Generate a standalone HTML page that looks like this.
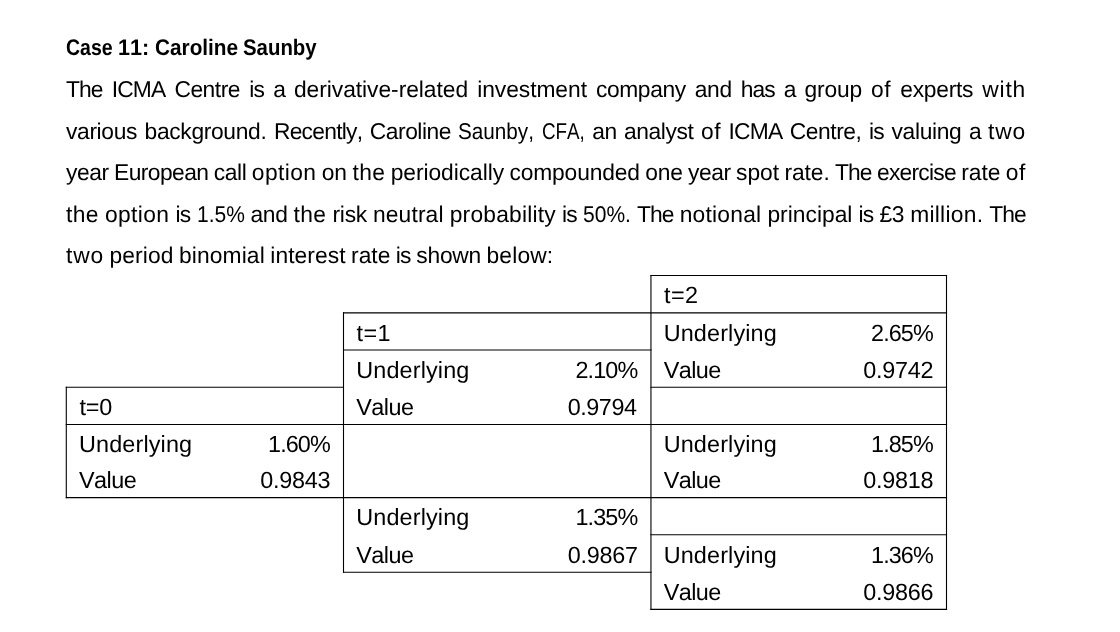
<!DOCTYPE html>
<html lang="en"><head><meta charset="utf-8"><title>Case 11: Caroline Saunby</title>
<style>
html,body{margin:0;padding:0;background:#fff}
body{position:relative;width:1120px;height:632px;overflow:hidden;color:#000;
 font-family:"Liberation Sans",sans-serif;font-size:22.8px;line-height:30.0px;
 font-kerning:none;font-variant-ligatures:none;text-rendering:geometricPrecision}
#pg{position:absolute;left:0;top:0;width:1120px;height:632px;will-change:transform}
.ln,.c{position:absolute;margin:0;padding:0;white-space:nowrap;height:30.0px;font-weight:normal}
h1.ln{font-size:22.5px;font-weight:bold}
h1.ln span{position:absolute;top:0;transform-origin:0 0}
.q{display:inline-block;transform-origin:0 0}
.c{font-size:23.4px}
svg{position:absolute;left:0;top:0}
</style></head><body><div id="pg">
<h1 class="ln" style="left:66.00px;top:32.80px;width:260px"><span style="left:0.00px;transform:scaleX(0.8658)">Case</span> <span style="left:52.05px;transform:scaleX(0.9591)">11:</span> <span style="left:88.72px;transform:scaleX(0.9229)">Caroline</span> <span style="left:177.28px;transform:scaleX(0.9060)">Saunby</span></h1>
<p class="ln" style="left:66.00px;top:74.20px;word-spacing:2.756px"><span style="letter-spacing:-0.922px">The</span> <span style="letter-spacing:-0.832px">ICMA</span> <span style="letter-spacing:-0.461px">Centre</span> <span style="letter-spacing:-0.724px">is</span> <span style="letter-spacing:-1.097px">a</span> <span style="letter-spacing:-0.044px">derivative-related</span> <span style="letter-spacing:-0.042px">investment</span> <span style="letter-spacing:-0.415px">company</span> <span style="letter-spacing:-0.346px">and</span> <span style="letter-spacing:-0.999px">has</span> <span style="letter-spacing:-1.097px">a</span> <span style="letter-spacing:-0.140px">group</span> <span style="letter-spacing:0.562px">of</span> <span style="letter-spacing:-0.268px">experts</span> <span style="letter-spacing:0.778px">with</span></p>
<p class="ln" style="left:66.00px;top:115.80px;word-spacing:1.146px"><span style="letter-spacing:-0.349px">various</span> <span style="letter-spacing:-0.323px">background.</span> <span style="letter-spacing:-0.737px">Recently,</span> <span style="letter-spacing:-0.473px">Caroline</span> <span class="q" style="width:75.97px;transform:scaleX(0.9081)">Saunby,</span> <span class="q" style="width:42.86px;transform:scaleX(0.8252)">CFA,</span> <span style="letter-spacing:-0.530px">an</span> <span style="letter-spacing:-0.398px">analyst</span> <span style="letter-spacing:0.562px">of</span> <span style="letter-spacing:-0.833px">ICMA</span> <span style="letter-spacing:-0.437px">Centre,</span> <span style="letter-spacing:-0.724px">is</span> <span style="letter-spacing:-0.313px">valuing</span> <span style="letter-spacing:-1.097px">a</span> <span style="letter-spacing:0.819px">two</span></p>
<p class="ln" style="left:66.00px;top:157.10px;word-spacing:-0.994px"><span style="letter-spacing:-0.410px">year</span> <span style="letter-spacing:-0.564px">European</span> <span style="letter-spacing:-0.375px">call</span> <span style="letter-spacing:0.392px">option</span> <span style="letter-spacing:0.055px">on</span> <span style="letter-spacing:0.386px">the</span> <span style="letter-spacing:-0.053px">periodically</span> <span style="letter-spacing:-0.140px">compounded</span> <span style="letter-spacing:-0.182px">one</span> <span style="letter-spacing:-0.410px">year</span> <span style="letter-spacing:-0.016px">spot</span> <span style="letter-spacing:-0.069px">rate.</span> <span style="letter-spacing:-0.919px">The</span> <span style="letter-spacing:-0.749px">exercise</span> <span style="letter-spacing:-0.027px">rate</span> <span style="letter-spacing:0.562px">of</span></p>
<p class="ln" style="left:66.00px;top:198.90px;word-spacing:-0.274px"><span style="letter-spacing:0.386px">the</span> <span style="letter-spacing:0.392px">option</span> <span style="letter-spacing:-0.729px">is</span> <span class="q" style="width:47.92px;transform:scaleX(0.9221)">1.5%</span> <span style="letter-spacing:-0.346px">and</span> <span style="letter-spacing:0.386px">the</span> <span style="letter-spacing:-0.252px">risk</span> <span style="letter-spacing:0.132px">neutral</span> <span style="letter-spacing:0.209px">probability</span> <span style="letter-spacing:-0.724px">is</span> <span class="q" style="width:47.92px;transform:scaleX(0.9221)">50%.</span> <span style="letter-spacing:-0.919px">The</span> <span style="letter-spacing:0.233px">notional</span> <span style="letter-spacing:0.014px">principal</span> <span style="letter-spacing:-0.724px">is</span> <span style="letter-spacing:-0.415px">£3</span> <span style="letter-spacing:0.270px">million.</span> <span style="letter-spacing:-0.922px">The</span></p>
<p class="ln" style="left:66.00px;top:240.10px;word-spacing:-0.874px"><span style="letter-spacing:0.819px">two</span> <span style="letter-spacing:0.138px">period</span> <span style="letter-spacing:0.103px">binomial</span> <span style="letter-spacing:0.074px">interest</span> <span style="letter-spacing:-0.027px">rate</span> <span style="letter-spacing:-0.729px">is</span> <span style="letter-spacing:-0.215px">shown</span> <span style="letter-spacing:0.136px">below:</span></p>
<svg width="1120" height="632" viewBox="0 0 1120 632" aria-hidden="true"><g stroke="#000" stroke-width="1.1" stroke-linecap="square" fill="none"><line x1="650.95" y1="275.45" x2="946.50" y2="275.45"/><line x1="343.50" y1="312.85" x2="946.50" y2="312.85"/><line x1="343.50" y1="350.00" x2="650.95" y2="350.00"/><line x1="66.30" y1="387.30" x2="343.50" y2="387.30"/><line x1="650.95" y1="387.30" x2="946.50" y2="387.30"/><line x1="66.30" y1="424.45" x2="946.50" y2="424.45"/><line x1="66.30" y1="497.60" x2="946.50" y2="497.60"/><line x1="650.95" y1="534.70" x2="946.50" y2="534.70"/><line x1="343.50" y1="572.30" x2="650.95" y2="572.30"/><line x1="650.95" y1="609.40" x2="946.50" y2="609.40"/><line x1="66.30" y1="387.30" x2="66.30" y2="497.60"/><line x1="343.50" y1="312.85" x2="343.50" y2="572.30"/><line x1="650.95" y1="275.45" x2="650.95" y2="609.40"/><line x1="946.50" y1="275.45" x2="946.50" y2="609.40"/></g></svg>
<div class="c" style="left:664.05px;top:279.79px;letter-spacing:0.371px">t=2</div>
<div class="c" style="left:356.60px;top:317.79px;letter-spacing:0.371px">t=1</div>
<div class="c" style="left:663.70px;top:317.79px;letter-spacing:0.138px">Underlying</div>
<div class="c" style="left:871.00px;top:317.79px;letter-spacing:-0.881px">2.65%</div>
<div class="c" style="left:356.25px;top:354.99px;letter-spacing:0.138px">Underlying</div>
<div class="c" style="left:575.45px;top:354.99px;letter-spacing:-0.881px">2.10%</div>
<div class="c" style="left:663.65px;top:354.99px;letter-spacing:-0.529px">Value</div>
<div class="c" style="left:863.30px;top:354.99px;letter-spacing:-0.267px">0.9742</div>
<div class="c" style="left:79.40px;top:391.79px;letter-spacing:-0.129px">t=0</div>
<div class="c" style="left:356.20px;top:391.79px;letter-spacing:-0.529px">Value</div>
<div class="c" style="left:567.75px;top:391.79px;letter-spacing:-0.467px">0.9794</div>
<div class="c" style="left:79.05px;top:428.69px;letter-spacing:0.138px">Underlying</div>
<div class="c" style="left:268.00px;top:428.69px;letter-spacing:-0.881px">1.60%</div>
<div class="c" style="left:663.70px;top:428.69px;letter-spacing:0.138px">Underlying</div>
<div class="c" style="left:871.00px;top:428.69px;letter-spacing:-0.881px">1.85%</div>
<div class="c" style="left:79.00px;top:464.59px;letter-spacing:-0.529px">Value</div>
<div class="c" style="left:260.30px;top:464.59px;letter-spacing:-0.267px">0.9843</div>
<div class="c" style="left:663.65px;top:464.59px;letter-spacing:-0.529px">Value</div>
<div class="c" style="left:863.30px;top:464.59px;letter-spacing:-0.267px">0.9818</div>
<div class="c" style="left:356.25px;top:501.59px;letter-spacing:0.138px">Underlying</div>
<div class="c" style="left:575.45px;top:501.59px;letter-spacing:-0.881px">1.35%</div>
<div class="c" style="left:356.20px;top:539.99px;letter-spacing:-0.529px">Value</div>
<div class="c" style="left:567.75px;top:539.99px;letter-spacing:-0.267px">0.9867</div>
<div class="c" style="left:663.70px;top:539.99px;letter-spacing:0.138px">Underlying</div>
<div class="c" style="left:871.00px;top:539.99px;letter-spacing:-0.881px">1.36%</div>
<div class="c" style="left:663.65px;top:576.89px;letter-spacing:-0.529px">Value</div>
<div class="c" style="left:863.30px;top:576.89px;letter-spacing:-0.267px">0.9866</div>
</div></body></html>
